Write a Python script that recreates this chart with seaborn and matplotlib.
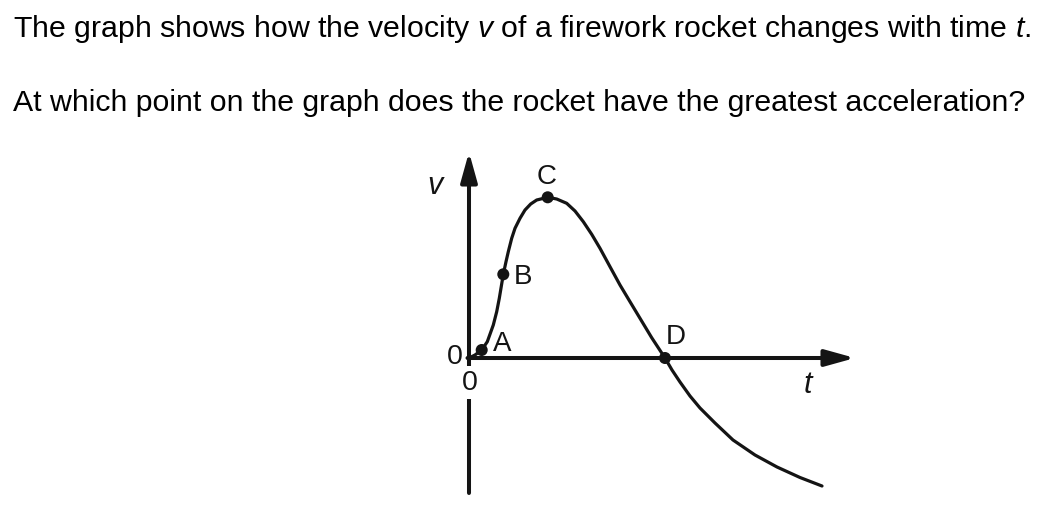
import numpy as np
import pandas as pd
import matplotlib
matplotlib.use("Agg")
import matplotlib.pyplot as plt
import seaborn as sns

# ---- data (arbitrary units) ----
curve_t = [0.0, 0.6, 1.27, 1.83, 2.43, 2.77, 3.03, 3.43, 3.7, 3.93, 4.27,
           4.6, 5.1, 5.6, 6.17, 6.77, 7.87, 8.77, 9.77, 10.6, 11.43, 12.27,
           13.1, 14.1, 15.1, 16.1, 17.1, 18.27, 19.6, 20.3, 21.1, 22.1, 23.1,
           24.6, 26.4, 28.6, 30.8, 33.1, 35.3]
curve_v = [0.0, 0.3, 0.8, 1.63, 3.3, 4.63, 5.97, 8.37, 9.63, 10.63, 11.97,
           12.97, 13.97, 14.8, 15.4, 15.8, 16.07, 15.9, 15.47, 14.7, 13.63,
           12.37, 10.97, 9.13, 7.3, 5.63, 3.97, 2.03, 0.0, -1.2, -2.4, -3.8,
           -5.0, -6.5, -8.2, -9.7, -10.9, -11.95, -12.8]

point_names = ["A", "B", "C", "D"]
point_t = [1.27, 3.43, 7.87, 19.6]
point_v = [0.8, 8.37, 16.07, 0.0]

title_lines = [
    "The graph shows how the velocity $v$ of a firework rocket changes with time $t$.",
    "At which point on the graph does the rocket have the greatest acceleration?",
]

ink = "#141414"

sns.set_theme(style="white")
plt.rcParams["font.family"] = ["Liberation Sans", "DejaVu Sans"]
plt.rcParams["mathtext.fontset"] = "custom"
plt.rcParams["mathtext.it"] = "Liberation Sans:italic"
plt.rcParams["mathtext.rm"] = "Liberation Sans"

fig = plt.figure(figsize=(10.54, 5.05), dpi=100)
ax = fig.add_axes([0, 0, 1, 1])
ax.set_xlim(-46.9, 58.5)
ax.set_ylim(-14.7, 35.8)
ax.axis("off")

# axes with arrows
arrow = dict(arrowstyle="-|>,head_length=18,head_width=5", lw=2.9, color=ink,
             shrinkA=0, shrinkB=0, mutation_scale=1)
ax.annotate("", xy=(0, 20.6), xytext=(0, -13.5), arrowprops=arrow)
ax.annotate("", xy=(38.6, 0), xytext=(-0.15, 0), arrowprops=arrow)

# the curve and the marked points
df = pd.DataFrame({"t": curve_t, "v": curve_v})
sns.lineplot(data=df, x="t", y="v", sort=False, estimator=None, ax=ax,
             color=ink, lw=2.3, solid_joinstyle="round", solid_capstyle="round")
pts = pd.DataFrame({"t": point_t, "v": point_v, "name": point_names})
sns.scatterplot(data=pts, x="t", y="v", ax=ax, color=ink, s=75,
                edgecolor="none", zorder=5, legend=False)
ax.set_xlabel("")
ax.set_ylabel("")

# labels of the points
label_pos = {"A": (3.3, 1.4), "B": (5.4, 8.1), "C": (7.8, 18.1), "D": (20.7, 2.05)}
for name in point_names:
    lx, ly = label_pos[name]
    ax.text(lx, ly, name, fontsize=20, ha="center", va="center", color=ink)

# axis labels
ax.text(-3.4, 17.2, "v", fontsize=22, style="italic", ha="center", va="center", color=ink)
ax.text(33.9, -2.7, "t", fontsize=22, style="italic", ha="center", va="center", color=ink)
ax.text(-1.4, 0.05, "0", fontsize=20.5, ha="center", va="center", color=ink)
ax.text(0.05, -2.45, "0", fontsize=20.5, ha="center", va="center", color=ink,
        bbox=dict(boxstyle="square,pad=0.12", fc="white", ec="none"), zorder=6)

# question text
fig.text(13 / 1054, 1 - 37 / 505, title_lines[0], fontsize=21.8, color="black",
         ha="left", va="baseline")
fig.text(13 / 1054, 1 - 111 / 505, title_lines[1], fontsize=21.8, color="black",
         ha="left", va="baseline")

fig.savefig("out.png", dpi=100, facecolor="white")
